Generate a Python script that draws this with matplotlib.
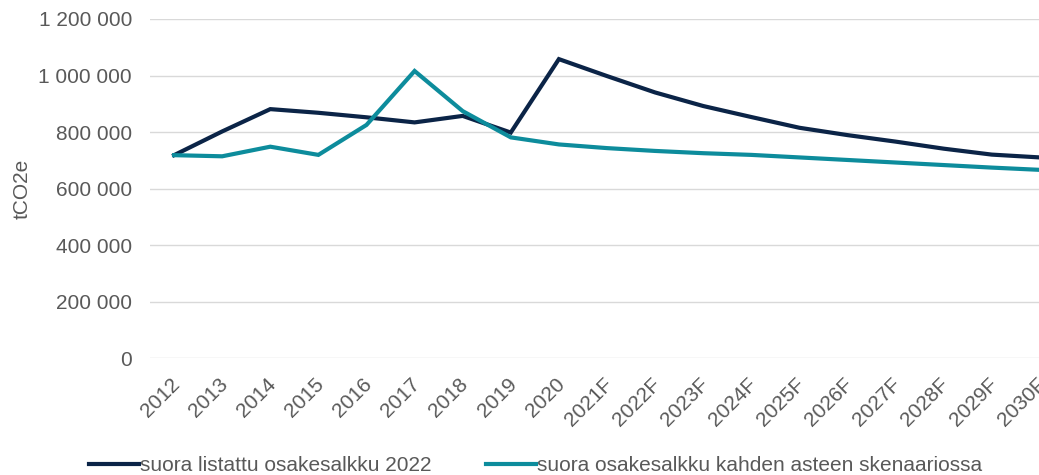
import matplotlib
matplotlib.use("Agg")
import matplotlib.pyplot as plt
import matplotlib.transforms as mtransforms
from matplotlib.ticker import FuncFormatter

plt.rcParams['font.family'] = ['Liberation Sans', 'DejaVu Sans']

years = ["2012", "2013", "2014", "2015", "2016", "2017", "2018", "2019", "2020",
         "2021F", "2022F", "2023F", "2024F", "2025F", "2026F", "2027F", "2028F",
         "2029F", "2030F"]

# tCO2e
listattu_2022 = [718000, 802000, 881000, 868000, 852000, 834000, 857000, 798000,
                 1058000, 998000, 940000, 892000, 853000, 815000, 789000, 766000,
                 741000, 720000, 710000]
kaksi_astetta = [718000, 714000, 748000, 719000, 825000, 1016000, 874000, 781000,
                 756000, 743000, 733000, 725000, 719000, 710000, 701000, 692000,
                 683000, 674000, 666000]

navy = "#0b2447"
teal = "#0d8c9c"
grey_txt = "#595959"

fig = plt.figure(figsize=(10.39, 4.75), dpi=100)
ax = fig.add_axes([0.1444, 0.2463, 0.8796, 0.7137])

x = list(range(len(years)))
ax.plot(x, listattu_2022, color=navy, lw=3, solid_joinstyle='miter',
        label="suora listattu osakesalkku 2022")
ax.plot(x, kaksi_astetta, color=teal, lw=3, solid_joinstyle='miter',
        label="suora osakesalkku kahden asteen skenaariossa")

ax.set_xlim(-0.5, len(years) - 0.5)
ax.set_ylim(0, 1200000)
ax.set_yticks(range(0, 1200001, 200000))
ax.yaxis.set_major_formatter(FuncFormatter(lambda v, p: f"{int(v):,}".replace(",", " ")))
ax.grid(axis='y', color="#d9d9d9", lw=1)
ax.set_axisbelow(True)
for s in ax.spines.values():
    s.set_visible(False)

ax.set_xticks(x)
ax.set_xticklabels(years, rotation=45, ha='right', rotation_mode='anchor')
ax.tick_params(axis='both', length=0, labelsize=15, colors=grey_txt)
ax.tick_params(axis='y', pad=13)
ax.tick_params(axis='x', pad=12)
# nudge the rotated year labels a bit to the left
shift = mtransforms.ScaledTranslation(-4 / 100, 0, fig.dpi_scale_trans)
for lbl in ax.get_xticklabels():
    lbl.set_transform(lbl.get_transform() + shift)

ax.set_ylabel("tCO2e", fontsize=15, color=grey_txt, labelpad=5)

leg = fig.legend(loc='lower left', bbox_to_anchor=(0.068, -0.04), ncol=2, frameon=False,
                 fontsize=15, handlelength=2.4, handletextpad=0.05, columnspacing=2.6)
for t in leg.get_texts():
    t.set_color(grey_txt)

fig.savefig("out.png", dpi=100)
